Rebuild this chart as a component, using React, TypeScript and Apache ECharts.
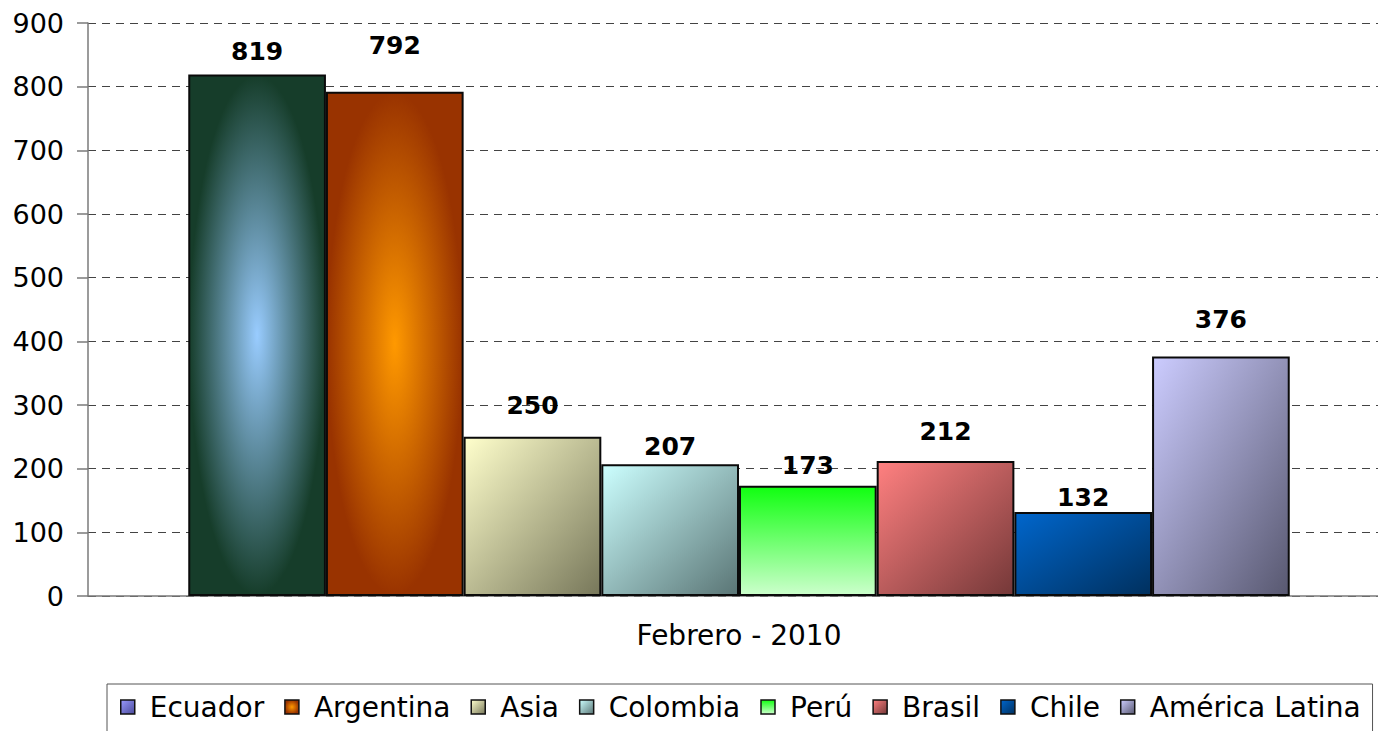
import React, { useEffect, useRef } from "react";
import * as echarts from "echarts";

const categories = ["Febrero - 2010"];
const seriesNames = ["Ecuador", "Argentina", "Asia", "Colombia", "Perú", "Brasil", "Chile", "América Latina"];
const seriesValues = [819, 792, 250, 207, 173, 212, 132, 376];
const yTicks = [0, 100, 200, 300, 400, 500, 600, 700, 800, 900];

// label distances above bars (style)
const labelDistances = [11, 34, 19, 5, 8, 17, 2, 25];

const FONT = "DejaVu Sans";

function radial(center: string, edge: string) {
  return new echarts.graphic.RadialGradient(0.5, 0.5, 0.5, [
    { offset: 0, color: center },
    { offset: 1, color: edge },
  ]);
}
function diag(a: string, b: string) {
  return new echarts.graphic.LinearGradient(0, 0, 1, 1, [
    { offset: 0, color: a },
    { offset: 1, color: b },
  ]);
}
function vert(a: string, b: string) {
  return new echarts.graphic.LinearGradient(0, 0, 0, 1, [
    { offset: 0, color: a },
    { offset: 1, color: b },
  ]);
}

const barFills = [
  () => radial("#99ccff", "#163d2a"),
  () => radial("#ff9900", "#993300"),
  () => diag("#ffffcc", "#77775a"),
  () => diag("#ccffff", "#5a7575"),
  () => vert("#11ff11", "#ccffcc"),
  () => diag("#ff8080", "#743838"),
  () => diag("#0066cc", "#00305e"),
  () => diag("#ccccff", "#585870"),
];
const legendFills = [
  () => diag("#9999ff", "#4a4a99"),
  () => radial("#ff9900", "#993300"),
  () => diag("#ffffcc", "#77775a"),
  () => diag("#ccffff", "#5a7575"),
  () => vert("#11ff11", "#ccffcc"),
  () => diag("#ff8080", "#743838"),
  () => diag("#0066cc", "#00305e"),
  () => diag("#ccccff", "#585870"),
];

export default function App() {
  const ref = useRef<HTMLDivElement>(null);
  useEffect(() => {
    if (!ref.current) return;
    const chart = echarts.init(ref.current, undefined, { renderer: "svg" });
    chart.setOption({
      animation: false,
      backgroundColor: "#ffffff",
      textStyle: { fontFamily: FONT },
      grid: { left: 88, right: 0, top: 23, bottom: 135, containLabel: false },
      legend: {
        left: 107,
        top: 684,
        orient: "horizontal",
        borderColor: "#555555",
        borderWidth: 1,
        padding: [9, 12, 40, 13],
        itemWidth: 14,
        itemHeight: 14,
        itemGap: 20,
        icon: "rect",
        textStyle: { fontFamily: FONT, fontSize: 28, color: "#000000", padding: [0, 0, 0, 10] },
        data: seriesNames.map((n, i) => ({
          name: n,
          itemStyle: { color: legendFills[i](), borderColor: "#111111", borderWidth: 1.5 },
        })),
      },
      xAxis: {
        type: "category",
        data: categories,
        axisLine: { show: true, lineStyle: { color: "#7a7a7a", width: 1.5 } },
        axisTick: { show: false },
        axisLabel: { fontFamily: FONT, fontSize: 28, color: "#000000", margin: 25 },
        splitLine: { show: false },
      },
      yAxis: {
        type: "value",
        min: yTicks[0],
        max: yTicks[yTicks.length - 1],
        interval: 100,
        axisLine: { show: true, lineStyle: { color: "#7a7a7a", width: 1.5 } },
        axisTick: { show: true, length: 11, lineStyle: { color: "#7a7a7a", width: 1.5 } },
        axisLabel: { fontFamily: FONT, fontSize: 27, color: "#000000", margin: 24 },
        splitLine: { show: true, lineStyle: { color: "#444444", width: 1, type: [8, 6] } },
      },
      series: seriesNames.map((n, i) => ({
        name: n,
        type: "bar",
        data: [seriesValues[i]],
        barGap: "0%",
        barCategoryGap: "15.4%",
        itemStyle: { color: barFills[i](), borderColor: "#0a0a0a", borderWidth: 2 },
        label: {
          show: true,
          position: "top",
          distance: labelDistances[i],
          fontFamily: FONT,
          fontWeight: "bold",
          fontSize: 25,
          color: "#000000",
        },
      })),
    });
    return () => chart.dispose();
  }, []);
  return (
    <div style={{ position: "absolute", left: 0, top: 0, width: 1378, height: 731, overflow: "hidden" }}>
      <div ref={ref} style={{ width: 1390, height: 731 }} />
    </div>
  );
}
